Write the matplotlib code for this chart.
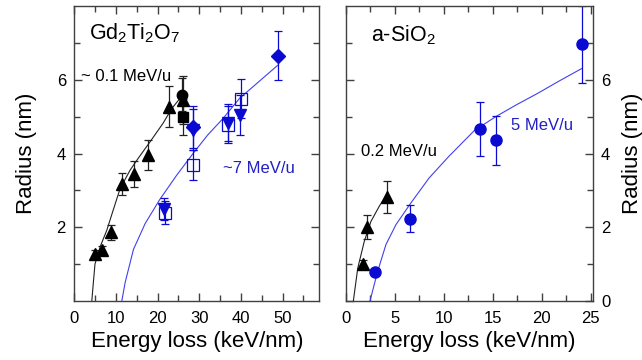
import matplotlib
matplotlib.use("Agg")
import matplotlib.pyplot as plt
from matplotlib.ticker import FixedLocator

plt.rcParams['font.family'] = ['Liberation Sans', 'DejaVu Sans']
plt.rcParams['mathtext.fontset'] = 'custom'
plt.rcParams['mathtext.rm'] = 'Liberation Sans'
plt.rcParams['mathtext.it'] = 'Liberation Sans'
plt.rcParams['mathtext.default'] = 'regular'

# ---------------- Data: Gd2Ti2O7 ----------------
gd_low_x = [5.0, 6.6, 8.8, 11.5, 14.4, 17.8, 22.8, 26.0]
gd_low_y = [1.27, 1.38, 1.86, 3.17, 3.44, 3.96, 5.27, 5.45]
gd_low_err = [0.1, 0.12, 0.2, 0.3, 0.35, 0.4, 0.55, 0.65]
gd_circ_x = [25.8]
gd_circ_y = [5.6]
gd_circ_err = [0.45]
gd_sq_x = [26.0]
gd_sq_y = [4.99]
gd_sq_err = [0.5]

gd_vtri_x = [21.5, 28.5, 36.9, 39.7]
gd_vtri_y = [2.49, 4.65, 4.84, 5.04]
gd_vtri_err = [0.3, 0.55, 0.5, 0.54]
gd_osq_x = [21.7, 28.6, 36.9, 39.9]
gd_osq_y = [2.40, 3.69, 4.78, 5.49]
gd_osq_err = [0.3, 0.4, 0.5, 0.54]
gd_dia_x = [28.4, 48.9]
gd_dia_y = [4.72, 6.65]
gd_dia_err = [0.56, 0.66]

gd_fit_low_x = [4.2, 4.56, 4.96, 6.2, 7.8, 9.35, 11.0, 13.4, 15.4, 18.2, 21.3, 23.4, 25.4]
gd_fit_low_y = [0.0, 0.48, 1.0, 1.47, 1.92, 2.47, 3.05, 3.55, 3.88, 4.32, 4.82, 5.22, 5.5]
gd_fit_high_x = [11.4, 12.2, 14.2, 17.0, 20.5, 24.5, 28.5, 32.0, 35.7, 39.7, 44.0, 48.9]
gd_fit_high_y = [0.0, 0.5, 1.4, 2.1, 2.75, 3.4, 4.0, 4.5, 4.95, 5.5, 5.92, 6.4]

# ---------------- Data: a-SiO2 ----------------
si_low_x = [1.7, 2.1, 4.15]
si_low_y = [1.0, 2.0, 2.82]
si_low_err = [0.12, 0.33, 0.43]
si_high_x = [2.99, 6.56, 13.67, 15.3, 24.1]
si_high_y = [0.8, 2.23, 4.66, 4.36, 6.96]
si_high_err = [0.0, 0.36, 0.73, 0.67, 1.05]

si_fit_low_x = [0.75, 1.2, 1.87, 2.55, 3.4, 4.25]
si_fit_low_y = [0.0, 0.89, 1.62, 2.16, 2.57, 2.93]
si_fit_high_x = [2.45, 3.23, 4.08, 5.1, 6.63, 8.5, 10.5, 13.1, 15.3, 17.4, 19.5, 21.8, 24.05]
si_fit_high_y = [0.0, 0.8, 1.53, 2.07, 2.66, 3.34, 3.92, 4.62, 5.0, 5.32, 5.62, 5.97, 6.3]

BLUE = '#0a0ad2'
BLUE_TXT = '#2020c4'
BLUE_LINE = '#4040f0'
BLACK = '#000000'
SPINE = '#404040'

W, H = 642, 360
fig = plt.figure(figsize=(W / 100, H / 100), dpi=100)
ax1 = fig.add_axes([74.3 / W, 59 / H, 245 / W, 295 / H])
ax2 = fig.add_axes([346 / W, 59 / H, 246.7 / W, 295 / H])

eb_kw = dict(linestyle='none', elinewidth=0.9, capsize=3, capthick=0.9)

# ---- left panel ----
ax1.plot(gd_fit_low_x, gd_fit_low_y, color='#222222', lw=0.8)
ax1.plot(gd_fit_high_x, gd_fit_high_y, color=BLUE_LINE, lw=0.8)
ax1.errorbar(gd_low_x, gd_low_y, yerr=gd_low_err, fmt='^', color=BLACK, ms=9, ecolor='#222222', **eb_kw)
ax1.errorbar(gd_circ_x, gd_circ_y, yerr=gd_circ_err, fmt='o', color=BLACK, ms=7.5, ecolor='#222222', **eb_kw)
ax1.errorbar(gd_sq_x, gd_sq_y, yerr=gd_sq_err, fmt='s', color=BLACK, ms=6.5, ecolor='#222222', **eb_kw)
ax1.errorbar(gd_osq_x, gd_osq_y, yerr=gd_osq_err, fmt='s', color=BLUE, mfc='none', mew=0.9, ms=8, ecolor=BLUE, **eb_kw)
ax1.errorbar(gd_vtri_x, gd_vtri_y, yerr=gd_vtri_err, fmt='v', color=BLUE, ms=9, ecolor=BLUE, **eb_kw)
ax1.errorbar(gd_dia_x, gd_dia_y, yerr=gd_dia_err, fmt='D', color=BLUE, ms=7.5, ecolor=BLUE, **eb_kw)

ax1.set_xlim(0, 58.8)
ax1.set_ylim(0, 8)
ax1.xaxis.set_major_locator(FixedLocator([0, 10, 20, 30, 40, 50]))
ax1.xaxis.set_minor_locator(FixedLocator([5, 15, 25, 35, 45, 55]))
ax1.yaxis.set_major_locator(FixedLocator([2, 4, 6]))
ax1.yaxis.set_minor_locator(FixedLocator([1, 3, 5, 7]))
ax1.set_xlabel('Energy loss (keV/nm)', fontsize=16, labelpad=4)
ax1.set_ylabel('Radius (nm)', fontsize=16, labelpad=14)

ax1.text(3.5, 7.1, r'Gd$_2$Ti$_2$O$_7$', fontsize=15.5, ha='left', va='baseline')
ax1.text(1.5, 6.1, '~ 0.1 MeV/u', fontsize=12, ha='left', va='center', color=BLACK)
ax1.text(35.6, 3.6, '~7 MeV/u', fontsize=12, ha='left', va='center', color=BLUE_TXT)

# ---- right panel ----
ax2.plot(si_fit_low_x, si_fit_low_y, color='#222222', lw=0.8)
ax2.plot(si_fit_high_x, si_fit_high_y, color=BLUE_LINE, lw=0.8)
ax2.errorbar(si_low_x, si_low_y, yerr=si_low_err, fmt='^', color=BLACK, ms=9, ecolor='#222222', **eb_kw)
ax2.errorbar(si_high_x, si_high_y, yerr=si_high_err, fmt='o', color=BLUE, ms=8, ecolor=BLUE, **eb_kw)

ax2.set_xlim(0, 25.2)
ax2.set_ylim(0, 8)
ax2.xaxis.set_major_locator(FixedLocator([0, 5, 10, 15, 20, 25]))
ax2.xaxis.set_minor_locator(FixedLocator([2.5, 7.5, 12.5, 17.5, 22.5]))
ax2.yaxis.set_major_locator(FixedLocator([0, 2, 4, 6]))
ax2.yaxis.set_minor_locator(FixedLocator([1, 3, 5, 7]))
ax2.yaxis.tick_right()
ax2.yaxis.set_label_position('right')
ax2.set_xlabel('Energy loss (keV/nm)', fontsize=16, labelpad=4)
ax2.set_ylabel('Radius (nm)', fontsize=16, labelpad=8)

ax2.text(2.52, 7.03, r'a-SiO$_2$', fontsize=15.5, ha='left', va='baseline')
ax2.text(16.9, 4.75, '5 MeV/u', fontsize=12, ha='left', va='center', color=BLUE_TXT)
ax2.text(1.5, 4.05, '0.2 MeV/u', fontsize=12, ha='left', va='center', color=BLACK)

for ax in (ax1, ax2):
    for s in ax.spines.values():
        s.set_color(SPINE)
        s.set_linewidth(1.0)
    ax.tick_params(which='both', direction='in', top=True, bottom=True, left=True, right=True,
                   color=SPINE, width=1.0)
    ax.tick_params(which='major', length=6, labelsize=12)
    ax.tick_params(which='minor', length=4)
    ax.tick_params(axis='x', pad=7)
    ax.tick_params(axis='y', pad=6)
ax2.tick_params(axis='y', which='both', labelleft=False, labelright=True)

fig.savefig('out.png', dpi=100)
